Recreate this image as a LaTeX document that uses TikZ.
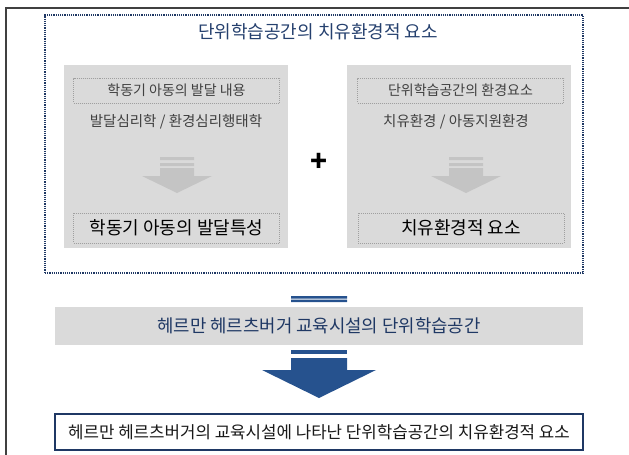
\documentclass[tikz,border=0pt]{standalone}
\usepackage{fontspec}
\setmainfont{Noto Sans CJK KR}
\definecolor{navy}{RGB}{31,56,100}
\definecolor{titleblue}{RGB}{37,64,110}
\definecolor{arrowblue}{RGB}{38,82,142}
\definecolor{panelgray}{RGB}{218,218,218}
\definecolor{arrowgray}{RGB}{196,196,196}
\definecolor{textgray}{RGB}{64,64,64}
\tikzset{
  panel/.style={fill=panelgray,minimum width=224pt,minimum height=183pt,inner sep=0pt},
  dotbox/.style={draw=gray!75,line width=1pt,dash pattern=on 1pt off 1pt,minimum width=206pt,inner sep=0pt},
  headtext/.style={text=textgray,font=\fontsize{14}{16}\selectfont},
  subtext/.style={text=textgray,font=\fontsize{14.5}{16}\selectfont},
  restext/.style={text=black,font=\fontsize{18}{20}\selectfont}
}
\begin{document}
\begin{tikzpicture}[x=1pt,y=-1pt]
\useasboundingbox (0,0) rectangle (629,455);
\draw[line width=1.5pt,black!75](6,455)--(6,8)--(629,8);
\node[draw=navy,line width=1.6pt,dash pattern=on 1.2pt off 1pt,minimum width=538pt,minimum height=258pt](zone) at (314,144){};
\node[text=titleblue,font=\fontsize{18}{20}\selectfont](title) at (318,32){단위학습공간의 치유환경적 요소};
\node[panel](lpanel) at (175.5,156.5){};
\node[panel](rpanel) at (458.5,156.5){};
\node[dotbox,minimum height=25pt,headtext](lhead) at (176.5,90.5){학동기 아동의 발달 내용};
\node[dotbox,minimum height=25pt,headtext](rhead) at (460.5,90.5){단위학습공간의 환경요소};
\node[subtext](lsub) at (176,122){발달심리학 / 환경심리행태학};
\node[subtext](rsub) at (456,122){치유환경 / 아동지원환경};
\foreach \cx in {177,466}{
  \fill[arrowgray](\cx-17,157)rectangle(\cx+17,160) (\cx-17,163)rectangle(\cx+17,166);
  \fill[arrowgray](\cx-17,168)--(\cx+17,168)--(\cx+17,176)--(\cx+35,176)--(\cx,193)--(\cx-35,176)--(\cx-17,176)--cycle;
}
\node[dotbox,minimum height=30pt,restext](lres) at (176.5,228){학동기 아동의 발달특성};
\node[dotbox,minimum height=30pt,restext](rres) at (461,228){치유환경적 요소};
\node[font=\fontsize{28}{28}\selectfont\bfseries](plus) at (319,162){+};
\fill[arrowblue](291,296)rectangle(347,298.5) (291,299.5)rectangle(347,302);
\node[fill=panelgray,minimum width=528pt,minimum height=38pt,text=navy,font=\fontsize{17.8}{20}\selectfont](band) at (319,326){헤르만 헤르츠버거 교육시설의 단위학습공간};
\fill[arrowblue](291,350)rectangle(347,354);
\fill[arrowblue](291,358)--(347,358)--(347,370)--(376,370)--(319,398)--(262,370)--(291,370)--cycle;
\node[draw=navy,line width=2pt,fill=white,minimum width=528pt,minimum height=36pt,text=black!90,font=\fontsize{16.8}{19}\selectfont](goal) at (319,432){헤르만 헤르츠버거의 교육시설에 나타난 단위학습공간의 치유환경적 요소};
\end{tikzpicture}
\end{document}
